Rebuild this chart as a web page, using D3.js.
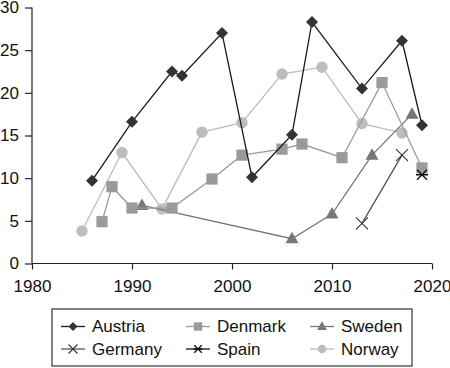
<!DOCTYPE html>
<html><head><meta charset="utf-8">
<script src="https://cdn.jsdelivr.net/npm/d3@7"></script>
<style>body{margin:0;background:#fff}svg{display:block;font-family:"Liberation Sans",Arial,sans-serif}</style>
</head><body>
<svg id="c" width="450" height="368"></svg>
<script>
const xTicks = [1980, 1990, 2000, 2010, 2020];
const yTicks = [0, 5, 10, 15, 20, 25, 30];

const austriaYears = [1986, 1990, 1994, 1995, 1999, 2002, 2006, 2008, 2013, 2017, 2019];
const austriaValues = [9.7, 16.6, 22.5, 22.0, 27.0, 10.1, 15.1, 28.3, 20.5, 26.1, 16.2];
const denmarkYears = [1987, 1988, 1990, 1994, 1998, 2001, 2005, 2007, 2011, 2015, 2019];
const denmarkValues = [4.9, 9.0, 6.5, 6.5, 9.9, 12.7, 13.4, 14.0, 12.4, 21.2, 11.2];
const swedenYears = [1991, 2006, 2010, 2014, 2018];
const swedenValues = [6.8, 2.9, 5.8, 12.7, 17.5];
const germanyYears = [2013, 2017];
const germanyValues = [4.7, 12.7];
const spainYears = [2019];
const spainValues = [10.4];
const norwayYears = [1985, 1989, 1993, 1997, 2001, 2005, 2009, 2013, 2017];
const norwayValues = [3.8, 13.0, 6.4, 15.4, 16.5, 22.2, 23.0, 16.4, 15.3];

const svg = d3.select("#c");
const x = d3.scaleLinear().domain([1980, 2020]).range([32, 432]);
const y = d3.scaleLinear().domain([0, 30]).range([263.5, 7.5]);

const series = [
  {name:"Norway", years:norwayYears, values:norwayValues, line:"#bdbdbd", fill:"#bdbdbd", shape:"circle"},
  {name:"Sweden", years:swedenYears, values:swedenValues, line:"#777", fill:"#777", shape:"triangle"},
  {name:"Denmark", years:denmarkYears, values:denmarkValues, line:"#9a9a9a", fill:"#9a9a9a", shape:"square"},
  {name:"Germany", years:germanyYears, values:germanyValues, line:"#555", fill:"#333", shape:"x"},
  {name:"Spain", years:spainYears, values:spainValues, line:"#111", fill:"#111", shape:"star"},
  {name:"Austria", years:austriaYears, values:austriaValues, line:"#1a1a1a", fill:"#333", shape:"diamond"}
];

function marker(g, sr, cx, cy, k) {
  k = k || 1;
  const f = sr.fill;
  if (sr.shape === "circle") g.append("circle").attr("cx", cx).attr("cy", cy).attr("r", 5.7*k).attr("fill", f);
  else if (sr.shape === "square") g.append("rect").attr("x", cx-5.6*k).attr("y", cy-5.6*k).attr("width", 11.2*k).attr("height", 11.2*k).attr("fill", f);
  else if (sr.shape === "triangle") g.append("path").attr("d", `M${cx},${cy-7*k}L${cx+6.5*k},${cy+4.5*k}L${cx-6.5*k},${cy+4.5*k}Z`).attr("fill", f);
  else if (sr.shape === "diamond") g.append("path").attr("d", `M${cx},${cy-6*k}L${cx+6*k},${cy}L${cx},${cy+6*k}L${cx-6*k},${cy}Z`).attr("fill", f);
  else if (sr.shape === "x") g.append("path").attr("d", `M${cx-6*k},${cy-6*k}L${cx+6*k},${cy+6*k}M${cx+6*k},${cy-6*k}L${cx-6*k},${cy+6*k}`).attr("stroke", f).attr("stroke-width", 1.1);
  else if (sr.shape === "star") g.append("path").attr("d", `M${cx-5*k},${cy-5*k}L${cx+5*k},${cy+5*k}M${cx+5*k},${cy-5*k}L${cx-5*k},${cy+5*k}M${cx-6*k},${cy}L${cx+6*k},${cy}`).attr("stroke", f).attr("stroke-width", 1.4);
}

// axes
const yAxis = svg.append("g").attr("transform", "translate(32,0)")
  .call(d3.axisLeft(y).tickValues(yTicks).tickSize(7).tickPadding(6));
const xAxis = svg.append("g").attr("transform", "translate(0,263.5)")
  .call(d3.axisBottom(x).tickValues(xTicks).tickFormat(d3.format("d")).tickSize(6).tickPadding(10));
[yAxis, xAxis].forEach(a => {
  a.selectAll("path,line").attr("stroke", "#222").attr("stroke-width", 1.2);
  a.select(".domain").attr("d", a === yAxis ? "M0,7.5V263.5" : "M32,0H432");
  a.selectAll("text").attr("font-size", 17).attr("fill", "#111").attr("font-family", '"Liberation Sans",Arial,sans-serif');
});

const line = d3.line().x(d => x(d[0])).y(d => y(d[1]));
series.forEach(sr => {
  const pts = sr.years.map((yr, i) => [yr, sr.values[i]]);
  const g = svg.append("g");
  if (pts.length > 1) g.append("path").attr("d", line(pts)).attr("fill", "none").attr("stroke", sr.line).attr("stroke-width", 1.3);
  pts.forEach(p => marker(g, sr, x(p[0]), y(p[1])));
});

// legend
const legendOrder = ["Austria", "Denmark", "Sweden", "Germany", "Spain", "Norway"];
const lg = svg.append("g");
lg.append("rect").attr("x", 52).attr("y", 309).attr("width", 360).attr("height", 57)
  .attr("fill", "#fff").attr("stroke", "#333").attr("stroke-width", 1.2);
const colX = [61, 186, 310];
const rowY = [326.5, 349];
legendOrder.forEach((n, i) => {
  const sr = series.find(s => s.name === n);
  const cx = colX[i % 3], cy = rowY[Math.floor(i / 3)];
  lg.append("line").attr("x1", cx).attr("x2", cx + 24).attr("y1", cy).attr("y2", cy).attr("stroke", sr.line).attr("stroke-width", 1.3);
  marker(lg, sr, cx + 12, cy, 0.75);
  lg.append("text").attr("x", cx + 31).attr("y", cy).attr("dy", "0.35em").attr("font-size", 17).attr("fill", "#111").text(n);
});
</script>
</body></html>
